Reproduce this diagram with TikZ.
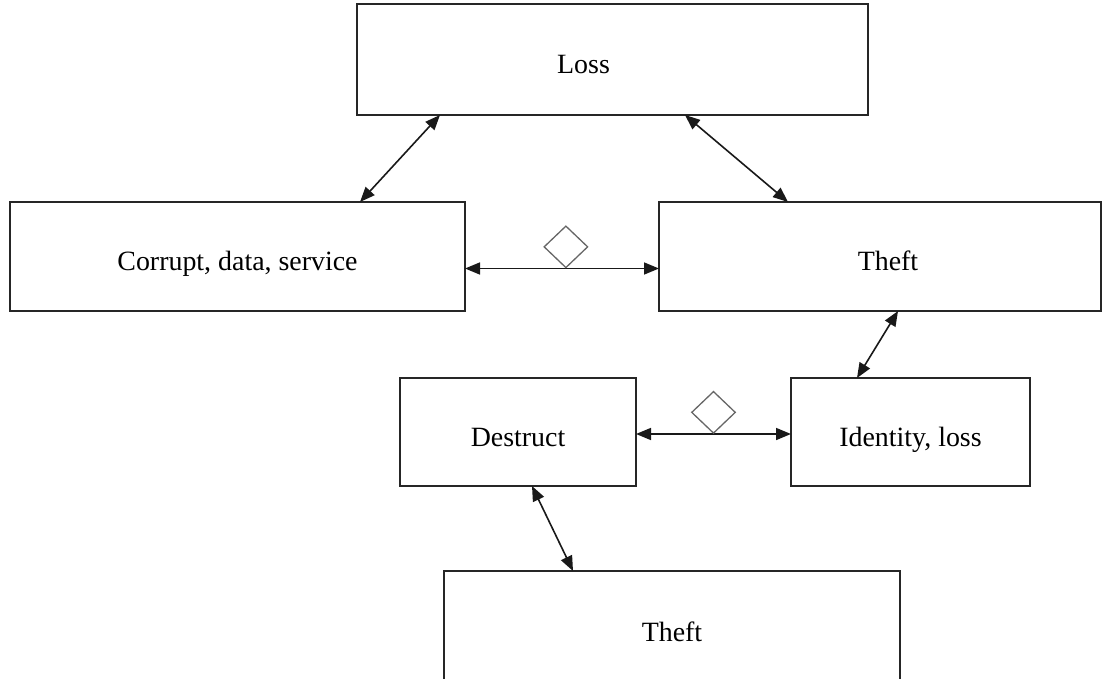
\documentclass[tikz,border=0pt]{standalone}
\usepackage{fontspec}
\setmainfont{Liberation Serif}
\usetikzlibrary{arrows.meta,positioning,shapes.geometric}

\begin{document}
\begin{tikzpicture}[
    x=1bp, y=-1bp,
    box/.style={rectangle, draw=black!85, line width=1.6bp, outer sep=0pt, minimum height=109bp, text height=28bp, text depth=0pt, font=\fontsize{28}{32}\selectfont},
    link/.style={<->, >={Triangle[length=15bp,width=12bp]}, line width=1.6bp, black!90},
    agg/.style={diamond, draw=black!60, line width=1.3bp, minimum width=44bp, minimum height=42bp, inner sep=0pt}
]
\useasboundingbox (0,0) rectangle (1109,679);

% Top level boxes
\node[box, minimum width=511bp, minimum height=111bp, anchor=north west] (loss) at (357,4) {Loss\hspace*{58bp}};
\node[box, minimum width=455bp, anchor=north west] (corrupt) at (10,202) {Corrupt, data, service};
\node[box, minimum width=442bp, right=194bp of corrupt] (theft) {\hspace*{16bp}Theft};

% Lower boxes
\node[box, minimum width=236bp, minimum height=108bp, anchor=north west] (destruct) at (400,378) {Destruct};
\node[box, minimum width=239bp, minimum height=108bp, right=155bp of destruct] (identity) {Identity, loss};
\node[box, minimum width=456bp, minimum height=112bp, anchor=north west] (theftb) at (444,571) {Theft};

% Connections
\draw[link] ([xshift=83bp]loss.south west) -- ([xshift=350bp]corrupt.north west);
\draw[link] ([xshift=328bp]loss.south west) -- ([xshift=129bp]theft.north west);
\draw[link] ([yshift=-12bp]corrupt.east) -- node[agg, anchor=south, pos=0.52] (aggtop) {} ([yshift=-12bp]theft.west);
\draw[link] ([xshift=239bp]theft.south west) -- ([xshift=66bp]identity.north west);
\draw[link] ([yshift=-2bp]destruct.east) -- node[agg, anchor=south] (aggbot) {} ([yshift=-2bp]identity.west);
\draw[link] ([xshift=132bp]destruct.south west) -- ([xshift=129bp]theftb.north west);

\end{tikzpicture}
\end{document}
